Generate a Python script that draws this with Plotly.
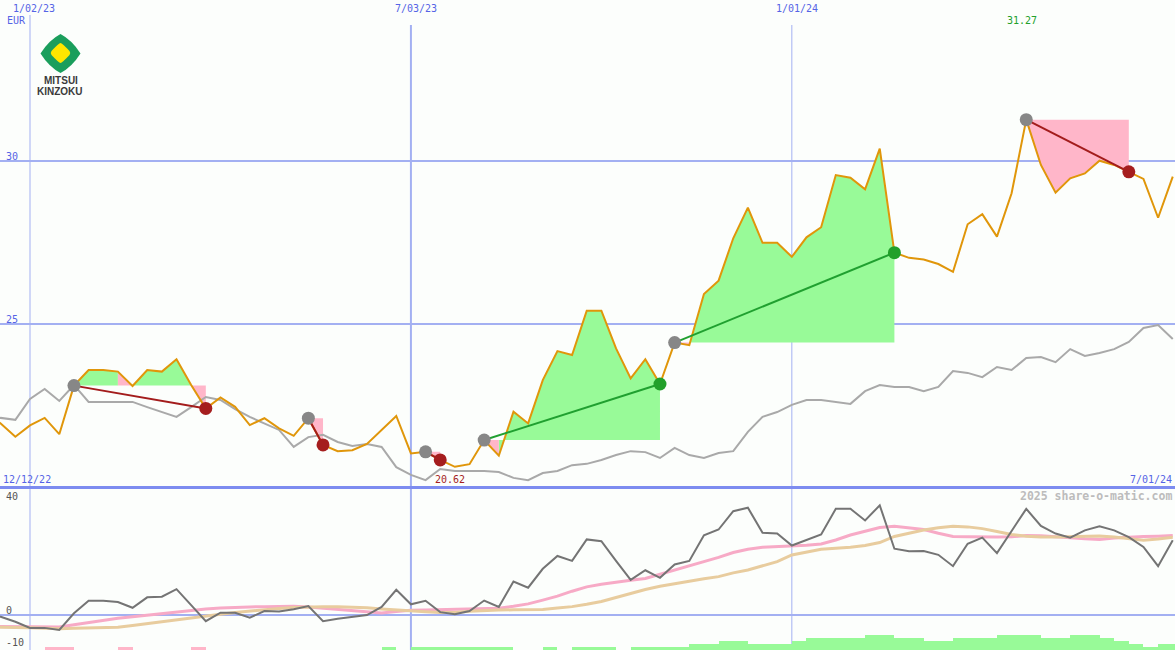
import plotly.graph_objects as go
import pandas as pd

W, H = 1175, 650

# ---------------- data ----------------
dates = [d.strftime("%Y-%m-%d") for d in pd.date_range("2022-12-12", periods=82, freq="7D")]

price = [22.30, 21.95, 21.54, 21.89, 22.12, 21.62, 23.11, 23.59, 23.59, 23.54,
         23.10, 23.59, 23.54, 23.92, 23.13, 22.41, 22.75, 22.46, 21.90, 22.11,
         21.80, 21.57, 22.11, 21.29, 21.10, 21.13, 21.32, 21.75, 22.18, 21.03,
         21.08, 20.83, 20.62, 20.70, 21.44, 20.96, 22.31, 21.95, 23.28, 24.17,
         24.05, 25.41, 25.41, 24.25, 23.33, 23.92, 23.16, 24.43, 24.35, 25.92,
         26.33, 27.63, 28.57, 27.49, 27.49, 27.06, 27.66, 27.97, 29.57, 29.49,
         29.13, 30.38, 27.19, 27.03, 26.98, 26.84, 26.60, 28.06, 28.37, 27.68,
         29.01, 31.27, 29.88, 29.03, 29.47, 29.62, 30.01, 29.88, 29.67, 29.45,
         28.26, 29.52]

compare = [22.00, 22.12, 22.06, 22.70, 23.01, 22.64, 23.13, 22.61, 22.61, 22.61,
           22.61, 22.45, 22.30, 22.15, 22.45, 22.76, 22.67, 22.39, 22.15, 21.96,
           21.75, 21.23, 21.53, 21.60, 21.38, 21.26, 21.32, 21.23, 20.61, 20.37,
           20.21, 20.55, 20.49, 20.49, 20.49, 20.46, 20.28, 20.21, 20.43, 20.49,
           20.67, 20.71, 20.83, 20.98, 21.10, 21.07, 20.89, 21.20, 20.98, 20.89,
           21.04, 21.10, 21.69, 22.15, 22.30, 22.52, 22.67, 22.67, 22.61, 22.55,
           22.94, 23.13, 23.07, 23.07, 22.94, 23.07, 23.56, 23.50, 23.37, 23.68,
           23.59, 23.96, 23.99, 23.83, 24.23, 24.02, 24.11, 24.23, 24.45, 24.88,
           24.97, 24.54]

indicator = [0.5, -0.6, -2.3, -4.4, -4.4, -5.1, 0.6, 4.9, 4.9, 4.5,
             2.5, 6.1, 6.3, 8.9, 3.4, -2.1, 0.8, 0.8, -0.9, 1.4,
             1.2, 2.0, 3.1, -2.1, -1.3, -0.6, 0.0, 2.8, 8.7, 3.7,
             4.9, 1.0, 0.3, 1.4, 5.0, 2.8, 11.5, 9.4, 15.9, 20.3,
             18.6, 26.0, 25.4, 18.6, 12.1, 15.4, 12.8, 17.4, 18.6, 27.4,
             29.4, 35.7, 36.9, 28.3, 28.0, 23.9, 25.7, 27.7, 36.5, 36.5,
             32.5, 37.7, 22.8, 21.9, 22.0, 20.7, 16.8, 24.5, 26.6, 21.3,
             28.9, 36.5, 30.6, 28.0, 26.6, 29.1, 30.5, 29.1, 26.8, 23.4,
             16.8, 25.7]

avg_fast = [-3.9, -3.9, -4.0, -4.0, -4.1, -4.1, -3.3, -2.5, -1.8, -1.1,
            -0.55, 0.0, 0.6, 1.2, 1.7, 2.1, 2.4, 2.7, 2.8, 2.9,
            3.0, 3.0, 2.75, 2.35, 1.95, 1.55, 1.15, 0.7, 1.25, 1.65,
            1.75, 1.85, 1.9, 2.0, 2.1, 2.35, 3.0, 3.85, 5.15, 6.5,
            8.2, 9.7, 10.6, 11.4, 12.0, 12.6, 14.0, 15.4, 16.8, 18.2,
            19.8, 21.5, 22.6, 23.3, 23.5, 23.6, 24.0, 24.4, 25.8, 27.5,
            28.9, 30.1, 30.55, 30.1, 29.4, 28.1, 27.0, 26.9, 26.8, 26.8,
            26.9, 27.3, 27.25, 27.0, 26.6, 26.2, 26.0, 26.5, 26.8, 27.0,
            27.1, 27.3]

avg_slow = [-4.1, -4.1, -4.25, -4.35, -4.5, -4.7, -4.55, -4.4, -4.25, -4.15,
            -3.55, -2.9, -2.15, -1.45, -0.85, -0.3, 0.3, 0.85, 1.4, 1.95,
            2.3, 2.6, 2.8, 2.9, 2.9, 2.8, 2.5, 2.1, 1.7, 1.45,
            1.15, 0.9, 0.85, 1.3, 1.65, 1.75, 1.8, 1.8, 1.9, 2.4,
            2.9, 3.7, 4.65, 6.05, 7.55, 8.8, 9.9, 10.8, 11.7, 12.5,
            13.2, 14.5, 15.5, 16.9, 18.35, 20.65, 21.7, 22.6, 23.0, 23.3,
            23.9, 24.9, 27.0, 28.1, 29.2, 30.0, 30.55, 30.3, 29.7, 28.7,
            27.7, 27.1, 26.8, 26.8, 26.9, 27.2, 27.2, 26.8, 26.3, 25.7,
            26.1, 26.7]

trend_bars = [0, 0, 0, 0, -1, -1, 0, 0, 0, -1,
              0, 0, 0, 0, -1, 0, 0, 0, 0, 0,
              0, 0, 0, 0, 0, 0, 0, 1, 0, 1,
              1, 1, 1, 1, 1, 1, 0, 0, 1, 0,
              1, 1, 1, 0, 1, 1, 1, 1, 2, 2,
              3, 3, 2, 2, 2, 3, 4, 4, 4, 4,
              5, 5, 4, 4, 3, 3, 4, 4, 4, 5,
              5, 5, 4, 4, 5, 5, 4, 3, 2, 1,
              2, 2]

entries = [6, 22, 30, 34, 47, 71]
exits = [15, 23, 31, 46, 62, 78]

grid_dates = ["2023-01-02", "2023-07-03", "2024-01-01"]
grid_labels = ["1/02/23", "7/03/23", "1/01/24"]
price_ticks = [30, 25]
ind_ticks = [40, 0, -10]

# ---------------- style ----------------
BG = "#fcfefc"
BLUE_TXT = "#5564e6"
GRID = "#a3b0f2"
DIVIDER = "#7d8cf0"
GREEN_FILL = "#98fa98"
PINK_FILL = "#ffb6c9"
ORANGE = "#e0960a"
MONO = "DejaVu Sans Mono"


def PX(x):
    return x / W


def PY(y):
    return 1 - y / H


fig = go.Figure()

# profit / loss areas of each trade
gx, gy, rx, ry = [], [], [], []
for e, x in zip(entries, exits):
    L = price[e]
    for i in range(e, x):
        xs = [dates[i], dates[i], dates[i + 1], dates[i + 1], dates[i]]
        ys = [L, price[i], price[i + 1], L, L]
        if price[i + 1] >= L:
            gx += xs + [None]
            gy += ys + [None]
        else:
            rx += xs + [None]
            ry += ys + [None]
fig.add_trace(go.Scatter(x=gx, y=gy, mode="lines", fill="toself", fillcolor=GREEN_FILL,
                         line=dict(width=0), hoverinfo="skip"))
fig.add_trace(go.Scatter(x=rx, y=ry, mode="lines", fill="toself", fillcolor=PINK_FILL,
                         line=dict(width=0), hoverinfo="skip"))

# comparison line and price line
fig.add_trace(go.Scatter(x=dates, y=compare, mode="lines", line=dict(color="#a9a9a9", width=2)))
fig.add_trace(go.Scatter(x=dates, y=price, mode="lines", line=dict(color=ORANGE, width=2)))

# trade connector lines
for e, x in zip(entries, exits):
    col = "#20a030" if price[x] >= price[e] else "#a31c1c"
    fig.add_trace(go.Scatter(x=[dates[e], dates[x]], y=[price[e], price[x]], mode="lines",
                             line=dict(color=col, width=2)))

# entry / exit dots
fig.add_trace(go.Scatter(x=[dates[e] for e in entries], y=[price[e] for e in entries],
                         mode="markers", marker=dict(color="#878787", size=13)))
fig.add_trace(go.Scatter(x=[dates[x] for x in exits], y=[price[x] for x in exits],
                         mode="markers",
                         marker=dict(color=["#22a02a" if price[x] >= price[e] else "#a51e1e"
                                            for e, x in zip(entries, exits)], size=13)))

# lower panel: trend bars
fig.add_trace(go.Bar(x=dates, y=[abs(b) for b in trend_bars], offset=0, width=7 * 86400000,
                     marker=dict(color=[GREEN_FILL if b > 0 else PINK_FILL for b in trend_bars],
                                 line=dict(width=0)),
                     xaxis="x", yaxis="y3"))
fig.add_trace(go.Scatter(x=dates, y=avg_fast, mode="lines", line=dict(color="#f7aac6", width=3),
                         xaxis="x", yaxis="y2"))
fig.add_trace(go.Scatter(x=dates, y=avg_slow, mode="lines", line=dict(color="#e8cc9e", width=3),
                         xaxis="x", yaxis="y2"))
fig.add_trace(go.Scatter(x=dates, y=indicator, mode="lines", line=dict(color="#747474", width=2),
                         xaxis="x", yaxis="y2"))

shapes = []
# horizontal grid lines of price panel
for t in price_ticks:
    shapes.append(dict(type="line", xref="paper", yref="y", x0=0, x1=1, y0=t, y1=t,
                       line=dict(color=GRID, width=2), layer="below"))
# zero line of lower panel
shapes.append(dict(type="line", xref="paper", yref="y2", x0=0, x1=1, y0=0, y1=0,
                   line=dict(color=GRID, width=2), layer="below"))
# vertical date lines
vwidth = [1, 2, 1]
vtop = [15, 25, 25]
for d, w, t in zip(grid_dates, vwidth, vtop):
    shapes.append(dict(type="line", xref="x", yref="paper", x0=d, x1=d, y0=0, y1=PY(t),
                       line=dict(color=GRID, width=w), layer="below"))
# divider between panels
shapes.append(dict(type="line", xref="paper", yref="paper", x0=0, x1=1, y0=PY(487.5), y1=PY(487.5),
                   line=dict(color=DIVIDER, width=3), layer="above"))


# logo
def path(pts):
    s = ""
    for cmd, coords in pts:
        s += cmd + " " + " ".join(f"{PX(a):.5f},{PY(b):.5f}" for a, b in coords) + " "
    return s + "Z"


green_logo = path([("M", [(60.5, 34)]), ("Q", [(72, 40), (80.5, 53.5)]), ("Q", [(72, 67), (60.5, 73)]),
                   ("Q", [(49, 67), (40.5, 53.5)]), ("Q", [(49, 40), (60.5, 34)])])
yellow_logo = path([("M", [(60.5, 43)]), ("Q", [(62, 43), (69.5, 51)]), ("Q", [(71, 53), (69.5, 55)]),
                    ("Q", [(62, 63), (60.5, 63)]), ("Q", [(59, 63), (51.5, 55)]), ("Q", [(50, 53), (51.5, 51)]),
                    ("Q", [(59, 43), (60.5, 43)])])
shapes.append(dict(type="path", xref="paper", yref="paper", path=green_logo,
                   fillcolor="#1a9e5c", line=dict(width=0)))
shapes.append(dict(type="path", xref="paper", yref="paper", path=yellow_logo,
                   fillcolor="#ffe600", line=dict(width=0)))

ann = []


def txt(text, x, y, color, size=10, xanchor="center", family=MONO, xref="paper"):
    ann.append(dict(text=text, x=(PX(x) if xref == "paper" else x), y=PY(y), xref=xref, yref="paper",
                    xanchor=xanchor, yanchor="middle", showarrow=False,
                    font=dict(family=family, size=size, color=color)))


for lab, cx in zip(grid_labels, [33.5, 415.5, 796.5]):
    txt(lab, cx, 8.5, BLUE_TXT)
txt("EUR", 5, 21, BLUE_TXT, xanchor="left")
txt("12/12/22", 1, 479, BLUE_TXT, xanchor="left")
txt("7/01/24", 1174, 479, BLUE_TXT, xanchor="right")
for t, cy in zip(price_ticks, [156, 319]):
    txt(str(t), 4, cy, BLUE_TXT, xanchor="left")
for t, cy in zip(ind_ticks, [496.5, 610, 642]):
    txt(str(t), 4, cy, "#555555", xanchor="left")
txt("<b>2025 share-o-matic.com</b>", 1174, 496, "#bcbcbc", size=11.5, xanchor="right")

imax = price.index(max(price))
imin = price.index(min(price))
ann.append(dict(text=f"{max(price):.2f}", x=dates[imax], y=PY(21), xref="x", yref="paper",
                xanchor="center", yanchor="middle", showarrow=False, xshift=-4,
                font=dict(family=MONO, size=10, color="#22a02a")))
ann.append(dict(text=f"{min(price):.2f}", x=dates[imin], y=PY(479), xref="x", yref="paper",
                xanchor="center", yanchor="middle", showarrow=False, xshift=-5,
                font=dict(family=MONO, size=10, color="#a51e1e")))

txt("<b>MITSUI</b>", 60.5, 81, "#3a3a3a", size=10, family="Liberation Sans")
txt("<b>KINZOKU</b>", 60, 91, "#3a3a3a", size=10, family="Liberation Sans")

split = 163 / H
fig.update_layout(
    width=W, height=H, autosize=False,
    margin=dict(l=0, r=0, t=0, b=0, pad=0),
    paper_bgcolor=BG, plot_bgcolor=BG,
    showlegend=False, hovermode=False, bargap=0,
    xaxis=dict(type="date", range=["2022-12-18 16:00", "2024-07-02 01:40"], showgrid=False,
               zeroline=False, showticklabels=False, showline=False, ticks=""),
    yaxis=dict(domain=[split, 1], range=[20, 34.94], showgrid=False, zeroline=False,
               showticklabels=False, showline=False, ticks=""),
    yaxis2=dict(domain=[0, split], range=[-12, 44], showgrid=False, zeroline=False,
                showticklabels=False, showline=False, ticks=""),
    yaxis3=dict(overlaying="y2", range=[0, 53], showgrid=False, zeroline=False,
                showticklabels=False, showline=False, ticks=""),
    shapes=shapes, annotations=ann,
)

fig.write_html(
    "out.html",
    config={"displayModeBar": False},
    post_script="document.body.style.margin='0';document.body.style.padding='0';"
                "document.body.style.overflow='hidden';"
                "document.documentElement.style.overflow='hidden';"
                "document.body.style.background='" + BG + "';",
)
